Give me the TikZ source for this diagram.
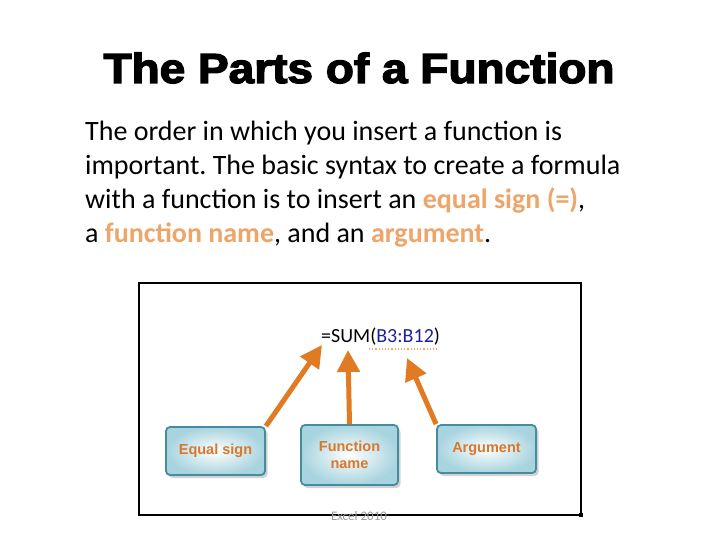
\documentclass[tikz,border=0pt]{standalone}
\usepackage{fontspec}
\setmainfont{Carlito}
\newfontfamily\titlefont[RawFeature={embolden=3}]{Liberation Sans Bold}
\newfontfamily\labelfont{Liberation Sans Bold}
\usepackage{tikz}
\usetikzlibrary{arrows.meta,positioning,shadows}
\definecolor{rorange}{HTML}{E07B24}
\definecolor{lorange}{HTML}{D9782C}
\definecolor{horange}{HTML}{EDA56A}
\definecolor{rteal}{HTML}{458C9E}
\definecolor{lteal}{HTML}{A8D4DF}
\definecolor{fblue}{HTML}{1F1F9E}
\tikzset{
 partbox/.style={rounded corners=4pt,draw=rteal,line width=1.8pt,
   inner color=white,outer color=lteal,align=center,
   font=\labelfont\fontsize{14.5}{17.5}\selectfont,text=lorange,
   minimum width=99pt,minimum height=48pt,inner sep=2pt,
   drop shadow={opacity=0.35,shadow xshift=2.5pt,shadow yshift=-3pt}},
 partarrow/.style={-{Triangle[length=22pt,width=22pt]},line width=5pt,draw=rorange}
}
\newcommand{\hl}[1]{\textcolor{horange}{\bfseries #1}}
\frenchspacing
\begin{document}
\begin{tikzpicture}[x=1pt,y=-1pt]
 \useasboundingbox[fill=white] (0,0) rectangle (720,540);
 \node[font=\titlefont\fontsize{42}{48}\selectfont,anchor=base] (title) at (359,83)
   {\scalebox{1.095}[1]{The Parts of a Function}};
 \node[anchor=north west,inner sep=0pt,align=left,
   font=\fontsize{28}{34}\selectfont] (intro) at (85,121)
   {The order in which you insert a function is\\
    important. The basic syntax to create a formula\\
    with a function is to insert an \hl{equal sign (=)},\\
    a \hl{function name}, and an \hl{argument}.};
 % screenshot frame
 \draw[line width=1.8pt] (139,283) rectangle (581,515);
 \fill (579,513) rectangle (583,517);
 \node[font=\fontsize{13}{15}\selectfont,text=black!40] (caption) at (359,516) {Excel 2010};
 % formula
 \node[anchor=base west,inner sep=0pt,font=\fontsize{20}{24}\selectfont] (formula) at (321,342)
   {=SUM(\textcolor{fblue}{B3:B12})};
 \draw[horange,dotted,line width=1.2pt] (369,349) -- (437,349);
 \coordinate (eqtip) at (322,345);
 \coordinate (nametip) at (348,350);
 \coordinate (argtip) at (407,358);
 % boxes
 \node[partbox] (eqbox) at (215.5,451) {Equal sign};
 \node[partbox,minimum width=97pt,minimum height=60pt] (namebox) at (349.5,455) {Function\\name};
 \node[partbox] (argbox) at (486.5,449) {Argument};
 \draw[partarrow] (eqbox.north east) -- (eqtip);
 \draw[partarrow] (namebox.north) -- (nametip);
 \draw[partarrow] (argbox.north west) -- (argtip);
\end{tikzpicture}
\end{document}
